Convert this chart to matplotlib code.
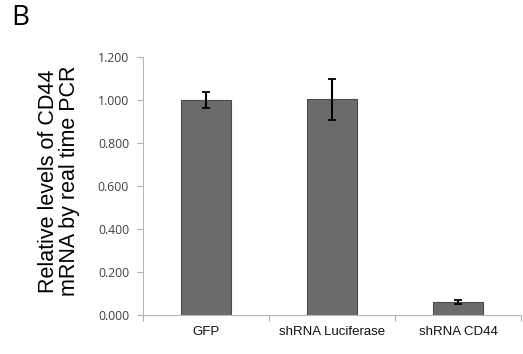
import matplotlib
matplotlib.use("Agg")
import matplotlib.pyplot as plt
import numpy as np

categories = ["GFP", "shRNA Luciferase", "shRNA CD44"]
values = [1.000, 1.003, 0.060]
errors = [0.035, 0.097, 0.008]
yticks = [0.0, 0.2, 0.4, 0.6, 0.8, 1.0, 1.2]
ytick_labels = ["0.000", "0.200", "0.400", "0.600", "0.800", "1.000", "1.200"]

fig = plt.figure(figsize=(5.23, 3.54), dpi=100)
ax = fig.add_axes([143/523, 1-315/354, 378/523, (315-57)/354])

x = np.arange(len(categories))
ax.bar(x, values, width=0.4, color="#6b6b6b", edgecolor="#4a4a4a", linewidth=0.8, zorder=2)
ax.errorbar(x, values, yerr=errors, fmt="none", ecolor="black", elinewidth=1.5,
            capsize=2.8, capthick=1.3, zorder=3)

ax.set_xlim(-0.5, len(categories) - 0.5)
ax.set_ylim(0, 1.2)
ax.set_yticks(yticks)
ax.set_yticklabels(ytick_labels, fontsize=8.8, color="#404040", family="Open Sans")
ax.set_xticks(x)
ax.set_xticklabels(categories, fontsize=9.5, family="Liberation Sans", color="#111111")
ax.tick_params(axis="x", length=0, pad=8)
ax.tick_params(axis="y", length=4, color="#b0b0b0", width=0.8, pad=6)
ax.set_xticks(np.arange(len(categories) + 1) - 0.5, minor=True)
ax.tick_params(axis="x", which="minor", length=4, color="#b0b0b0", width=0.8)

for s in ["top", "right"]:
    ax.spines[s].set_visible(False)
for s in ["left", "bottom"]:
    ax.spines[s].set_color("#b8b8b8")
    ax.spines[s].set_linewidth(0.8)

fig.text(59/523, 1-181/354, "Relative levels of CD44\nmRNA by real time PCR", rotation=90,
         ha="center", va="center", fontsize=15.5, family="Liberation Sans", linespacing=1.0)
fig.text(11/523, 1-18/354, "B", fontsize=20, family="Open Sans", ha="left", va="center")

fig.savefig("out.png", dpi=100)
